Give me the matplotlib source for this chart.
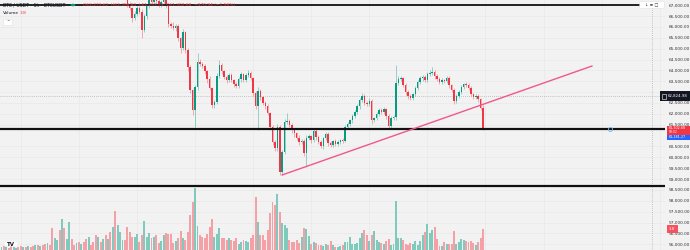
import matplotlib
matplotlib.use("Agg")
import matplotlib.pyplot as plt
from matplotlib.patches import Rectangle, Circle, FancyBboxPatch
import numpy as np

# hourly closes, BTC/USDT (first candles sit above the visible range)
closes = [
    68120, 68050, 68180, 68090, 67980, 68040, 68110, 68070, 67990, 68030,
    67950, 68010, 67920, 67880, 67940, 67860, 67910, 67830, 67790, 67850,
    67800, 67600, 67680, 67720, 67560, 67820, 67650, 67710, 67950, 67880,
    67850, 67900, 67830, 67870, 67800, 67740, 67820, 67780, 67700, 67560,
    67640, 67600, 67680, 67520, 67590, 67450, 67620, 67380, 67520, 67600,
    67650, 67580, 67054, 66870, 66410, 66594, 66870, 66686, 65858, 66502,
    66962, 67330, 67146, 67376, 67192, 67008, 67146, 67284, 66962, 66134,
    66042, 65950, 66042, 65490, 65030, 65766, 64938, 64156, 63098, 62178,
    63236, 64386, 64294, 64202, 63972, 63604, 63190, 62408, 62546, 63742,
    64248, 63972, 63696, 63558, 63788, 63558, 63374, 63282, 63604, 63834,
    63558, 63788, 63880, 63650, 62960, 62362, 63052, 62776, 62500, 62362,
    62040, 61396, 60706, 60430, 61396, 59326, 60246, 61626, 61672, 61488,
    61258, 61120, 60890, 60706, 60752, 60200, 60890, 60982, 60798, 61212,
    60936, 60706, 60522, 60890, 61074, 60660, 60568, 60752, 60614, 60706,
    60798, 60752, 61396, 61534, 61718, 61902, 62086, 62362, 62638, 62822,
    62500, 62454, 62592, 61718, 61810, 61994, 62178, 62086, 62224, 61902,
    61442, 61810, 61856, 63420, 63604, 63650, 63328, 63006, 62822, 62730,
    62914, 63190, 63466, 63650, 63696, 63558, 63834, 63880, 63926, 63742,
    63604, 63466, 63558, 63512, 63650, 63328, 63098, 62592, 62822, 63006,
    63236, 63374, 63328, 63190, 62914, 62776, 62822, 62684, 62274, 61302.68,
]
first_open = 68060

# wick lengths above / below the body (USDT)
wick_up = [
    90, 60, 120, 70, 80, 50, 100, 60, 70, 90,
    60, 80, 50, 70, 60, 90, 50, 60, 80, 70,
    60, 150, 90, 80, 120, 100, 70, 60, 110, 80,
    60, 50, 70, 60, 80, 90, 60, 50, 70, 80,
    60, 90, 70, 80, 60, 100, 70, 120, 60, 50,
    70, 60, 150, 90, 60, 120, 80, 70, 140, 100,
    90, 120, 80, 110, 60, 90, 70, 100, 80, 120,
    80, 180, 70, 90, 60, 140, 60, 80, 70, 60,
    90, 410, 130, 80, 90, 60, 120, 50, 90, 150,
    230, 90, 60, 110, 80, 70, 60, 100, 90, 70,
    60, 80, 120, 70, 60, 90, 180, 80, 60, 90,
    70, 60, 110, 90, 120, 80, 70, 150, 370, 90,
    80, 100, 60, 120, 70, 90, 140, 80, 60, 110,
    90, 70, 80, 60, 90, 70, 100, 60, 80, 70,
    60, 90, 70, 80, 60, 90, 70, 110, 80, 140,
    90, 70, 120, 80, 60, 90, 70, 100, 80, 60,
    70, 80, 90, 830, 150, 80, 60, 90, 70, 80,
    60, 90, 70, 100, 80, 90, 70, 120, 230, 80,
    70, 100, 80, 60, 90, 70, 60, 80, 90, 70,
    80, 60, 90, 70, 80, 60, 110, 70, 60, 125,
]
wick_dn = [
    50, 70, 60, 80, 40, 60, 70, 50, 60, 80,
    70, 50, 60, 40, 70, 60, 50, 80, 60, 50,
    60, 90, 70, 60, 110, 80, 60, 70, 90, 60,
    50, 70, 60, 80, 60, 70, 50, 60, 80, 90,
    60, 70, 80, 90, 60, 70, 50, 90, 60, 70,
    60, 50, 120, 90, 180, 100, 80, 110, 370, 90,
    140, 80, 120, 90, 130, 80, 100, 70, 90, 150,
    110, 90, 130, 120, 230, 90, 150, 200, 140, 230,
    780, 130, 90, 110, 120, 200, 90, 150, 120, 80,
    100, 120, 90, 150, 80, 110, 130, 90, 80, 120,
    90, 70, 110, 80, 150, 130, 1100, 120, 90, 140,
    100, 130, 160, 120, 140, 150, 140, 80, 90, 110,
    120, 180, 90, 140, 110, 160, 640, 90, 120, 80,
    130, 110, 90, 120, 80, 140, 100, 70, 110, 90,
    80, 90, 60, 110, 80, 120, 100, 90, 130, 80,
    100, 80, 90, 180, 110, 80, 100, 70, 90, 120,
    90, 100, 80, 120, 90, 110, 80, 140, 120, 90,
    100, 80, 110, 90, 130, 100, 80, 90, 110, 120,
    90, 100, 80, 110, 90, 120, 100, 130, 80, 90,
    110, 90, 80, 100, 90, 110, 80, 120, 90, 50,
]

# volume (K)
volumes = [
    0.55, 0.73, 0.55, 0.37, 0.73, 0.55, 0.37, 0.55, 0.73, 0.55,
    0.55, 0.73, 0.55, 0.73, 0.92, 0.92, 0.73, 0.92, 1.1, 1.29,
    0.92, 4.0, 2.2, 1.84, 3.67, 5.7, 4.0, 2.0, 5.1, 2.0,
    0.92, 1.29, 1.47, 1.1, 1.47, 2.0, 2.4, 0.92, 1.47, 2.75,
    2.4, 1.47, 2.0, 2.75, 2.0, 3.3, 4.2, 7.2, 4.6, 3.3,
    1.84, 1.84, 4.2, 3.3, 2.4, 2.4, 2.94, 1.47, 2.75, 5.3,
    2.4, 3.1, 2.2, 2.4, 2.75, 1.29, 1.65, 2.75, 3.1, 2.94,
    2.94, 1.29, 1.65, 2.2, 3.5, 2.2, 1.84, 3.3, 6.4, 8.8,
    11.4, 4.4, 2.75, 2.4, 2.2, 2.94, 4.2, 5.7, 2.4, 2.94,
    4.0, 2.2, 2.2, 1.84, 2.2, 1.84, 1.65, 2.2, 1.1, 1.47,
    1.84, 1.65, 1.47, 2.2, 2.75, 9.7, 5.1, 2.75, 2.75, 1.84,
    3.67, 6.8, 8.8, 8.3, 10.3, 7.0, 5.0, 4.6, 4.0, 1.84,
    1.47, 1.47, 1.84, 1.29, 2.4, 4.0, 3.86, 2.57, 1.1, 1.47,
    1.29, 0.92, 0.92, 0.73, 1.1, 0.92, 1.65, 0.92, 0.55, 0.55,
    0.73, 0.92, 1.47, 1.47, 2.4, 1.1, 1.1, 1.29, 2.2, 3.1,
    3.67, 2.75, 1.65, 2.75, 3.5, 1.84, 1.47, 1.29, 1.1, 1.65,
    2.0, 0.92, 1.1, 9.0, 2.2, 2.2, 1.84, 1.1, 0.92, 1.29,
    1.1, 1.65, 0.92, 1.65, 2.75, 3.3, 4.8, 3.1, 3.67, 4.2,
    2.0, 0.73, 0.73, 1.47, 1.1, 1.1, 1.1, 3.5, 1.1, 1.47,
    2.0, 1.84, 1.65, 1.47, 1.65, 1.29, 0.92, 1.47, 2.2, 3.8,
]

# price scale ticks (61,000 sits under the price labels, not shown)
price_ticks = [56000, 56500, 57000, 57500, 58000, 58500, 59000, 59500, 60000, 60500,
               61500, 62000, 62500, 63000, 63500, 64000, 64500, 65000, 65500, 66000,
               66500, 67000]

# drawings
h_levels = [67008, 61300, 58680]
trend_pts = [(116, 59190), (244, 64200)]
cross_price = 62824.98
last_price = 61302.68
line_price = 61281.27

BG = "#f2f2f2"
UP, DN = "#089981", "#f23645"
UPV, DNV = "#80c9bd", "#f5a0a6"

W, H = 690, 250
fig = plt.figure(figsize=(W / 100, H / 100), dpi=100, facecolor=BG)
ax = fig.add_axes([0, 0, 665 / W, 1])
ax.set_facecolor(BG)
for s in ax.spines.values():
    s.set_visible(False)

n = len(closes)
idx = np.arange(n)
opens = np.array([first_open] + closes[:-1])
cl = np.array(closes)
top = np.maximum(opens, cl)
bot = np.minimum(opens, cl)
highs = top + np.array(wick_up)
lows = bot - np.array(wick_dn)
up = cl >= opens
cols = np.where(up, UP, DN)

# volume on a twin axis at the bottom
vax = ax.twinx()
vax.set_ylim(0, 45.9)
vax.axis("off")
vax.bar(idx, volumes, width=0.8, color=np.where(up, UPV, DNV), zorder=1)

ax.vlines(idx, lows, highs, colors=cols, lw=0.6, alpha=0.45, zorder=3)
ax.bar(idx, np.maximum(top - bot, 15), bottom=bot, width=0.62, color=cols, zorder=4)

ax.set_xlim(-0.62, 274.2)
ax.set_ylim(55738, 67238)

ax.set_yticks(price_ticks)
ax.yaxis.set_major_formatter(matplotlib.ticker.FuncFormatter(lambda v, p: f"{v:,.2f}"))
ax.yaxis.tick_right()
ax.tick_params(axis="y", length=0, pad=2.5, labelsize=3.1, labelcolor="#333333")
ax.set_xticks(np.arange(8, n + 80, 24))
ax.tick_params(axis="x", length=0, labelbottom=False)
ax.grid(color="#e8e8e8", lw=0.5)
ax.set_axisbelow(True)

# horizontal levels and trend line
ax.axhline(h_levels[0], xmax=642 / 665, color="#222222", lw=1.4, zorder=5)
ax.axhline(h_levels[1], color="#111111", lw=1.6, zorder=5)
ax.axhline(h_levels[2], color="#111111", lw=1.6, zorder=5)
ax.plot([p[0] for p in trend_pts], [p[1] for p in trend_pts], color="#f0588a", lw=1.0, zorder=6)
ax.plot([251.4], [h_levels[1]], marker="o", ms=3, mfc="none", mec="#7fb6e8", mew=0.6, zorder=7)

# crosshair
ax.axhline(cross_price, color="#9598a1", lw=0.5, ls=(0, (1, 2)), zorder=2)
ax.axvline(268.8, color="#9598a1", lw=0.5, ls=(0, (1, 2)), zorder=2)


def fx(x):
    return x / W


def fy(y):
    return 1 - y / H


def box(x, y, w, h, color):
    fig.add_artist(Rectangle((fx(x), fy(y + h)), w / W, h / H, transform=fig.transFigure,
                             facecolor=color, edgecolor="none", zorder=10))


# price scale labels
box(660, 91, 30, 10, "#131722")
fig.add_artist(Rectangle((fx(661.5), fy(98.5)), 4 / W, 5 / H, transform=fig.transFigure,
                         facecolor="none", edgecolor="white", lw=0.4, zorder=11))
fig.text(fx(668), fy(96), f"{cross_price:,.2f}", color="white", fontsize=2.8,
         va="center", ha="left", zorder=12)
box(667, 126, 23, 8.5, DN)
fig.text(fx(668.5), fy(128.3), f"{last_price:,.2f}", color="white", fontsize=2.4, va="center", zorder=12)
fig.text(fx(668.5), fy(132.4), "58:02", color="white", fontsize=2.2, va="center", zorder=12)
box(667, 134.5, 23, 5.5, "#2962ff")
fig.text(fx(668.5), fy(137.3), f"{line_price:,.2f}", color="white", fontsize=2.4, va="center", zorder=12)
box(667, 225, 11, 8, "#f7525f")
fig.text(fx(669), fy(229), "3.8", color="white", fontsize=2.8, va="center", zorder=12)

# legend
fig.text(fx(3), fy(5), "BTC / USDT · 1h · BTCUSDT", fontsize=3.3, color="#131722", va="center")
fig.add_artist(Circle((fx(73), fy(5)), 1.6 / W, transform=fig.transFigure, color=UP, zorder=10))
fig.text(fx(83), fy(5), "O62,273.62  H62,398.81  L61,253.23  C61,302.68  −970.94 (−1.56%)",
         fontsize=3.2, color=DN, va="center")
fig.text(fx(3), fy(13), "Volume", fontsize=3.2, color="#131722", va="center")
fig.text(fx(20), fy(13), "3.8", fontsize=3.2, color=DN, va="center")
fig.add_artist(FancyBboxPatch((fx(5), fy(25)), 6 / W, 5 / H, boxstyle="round,pad=0.002",
                              transform=fig.transFigure, facecolor="white", edgecolor="#dddddd",
                              lw=0.3, zorder=10))
fig.text(fx(8), fy(22), "^", fontsize=3, color="#131722", ha="center", va="center", zorder=11)

# toolbar icons top right
fig.add_artist(FancyBboxPatch((fx(641), fy(8)), 22 / W, 6 / H, boxstyle="round,pad=0.002",
                              transform=fig.transFigure, facecolor="white", edgecolor="#dddddd",
                              lw=0.3, zorder=10))
fig.text(fx(652), fy(5), "↓ ≡ □", fontsize=3, color="#333333", ha="center", va="center", zorder=11)

# TradingView logo
fig.add_artist(Circle((fx(11), fy(244)), 6.5 / W, transform=fig.transFigure,
                      facecolor="white", edgecolor="none", zorder=10))
fig.text(fx(11), fy(244), "TV", fontsize=4, color="#131722", fontweight="bold",
         ha="center", va="center", zorder=11)

fig.savefig("out.png", dpi=100, facecolor=BG)
